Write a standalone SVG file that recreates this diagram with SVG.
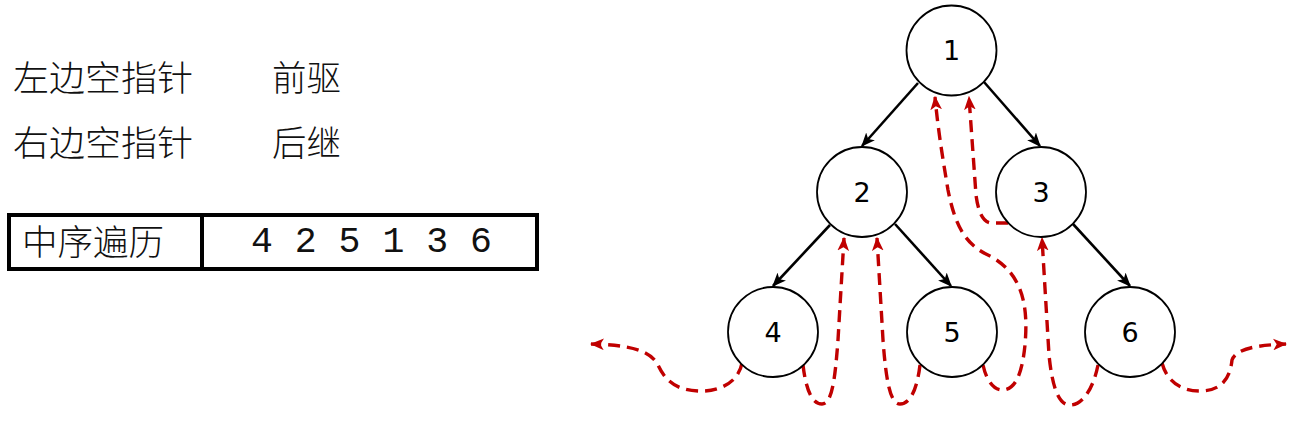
<svg xmlns="http://www.w3.org/2000/svg" width="1313" height="423" viewBox="0 0 1313 423">
<style>
.cjk{font-family:"Noto Sans CJK SC","Noto Sans CJK JP",sans-serif;font-size:35px;font-weight:300;fill:#111}
.num{font-family:"Liberation Mono",monospace;font-size:36.5px;fill:#111}
.node circle{fill:#fff;stroke:#000;stroke-width:1.8}
.node text{font-family:"DejaVu Sans",sans-serif;font-size:27px;fill:#000;text-anchor:middle}
.edge{stroke:#000;stroke-width:2.6;fill:none;marker-end:url(#ah)}
.thr{stroke:#c00000;stroke-width:3.4;fill:none;stroke-dasharray:12 7;marker-end:url(#rh)}
</style>
<defs>
<marker id="ah" markerUnits="userSpaceOnUse" markerWidth="14" markerHeight="12" refX="11" refY="5" orient="auto" viewBox="0 0 12 10">
<path d="M0,0 L12,5 L0,10 L3,5 Z" fill="#000"/>
</marker>
<marker id="rh" markerUnits="userSpaceOnUse" markerWidth="14" markerHeight="12" refX="11" refY="5" orient="auto" viewBox="0 0 12 10">
<path d="M0,0 L12,5 L0,10 L3,5 Z" fill="#c00000"/>
</marker>
</defs>

<g id="legend">
<text class="cjk" x="13" y="91" textLength="180" lengthAdjust="spacingAndGlyphs">左边空指针</text>
<text class="cjk" x="272" y="91" textLength="69" lengthAdjust="spacingAndGlyphs">前驱</text>
<text class="cjk" x="13" y="156" textLength="180" lengthAdjust="spacingAndGlyphs">右边空指针</text>
<text class="cjk" x="272" y="156" textLength="69" lengthAdjust="spacingAndGlyphs">后继</text>
</g>

<g id="table">
<rect x="9" y="215" width="528" height="54" fill="#fff" stroke="#000" stroke-width="4"/>
<line x1="202" y1="215" x2="202" y2="269" stroke="#000" stroke-width="4"/>
<text class="cjk" x="22" y="255" textLength="142" lengthAdjust="spacingAndGlyphs">中序遍历</text>
<text class="num" x="251" y="252">4 2 5 1 3 6</text>
</g>

<g id="connectors">
<line class="edge" x1="918" y1="83" x2="862" y2="146"/>
<line class="edge" x1="984" y1="82" x2="1040" y2="146"/>
<line class="edge" x1="830" y1="225" x2="773" y2="286"/>
<line class="edge" x1="895" y1="224" x2="951" y2="286"/>
<line class="edge" x1="1073" y1="224" x2="1130" y2="286"/>

<path class="thr" d="M742,363 C738,385 715,392 698,391 C675,390 665,380 658,365 C650,350 630,345 591,344"/>
<path class="thr" d="M803,365 C806,390 812,404 822,404 C832,404 835,380 838,340 L844,238"/>
<path class="thr" d="M920,365 C917,390 910,404 900,404 C890,404 886,380 883,340 L877,238"/>
<path class="thr" d="M983,365 C987,383 995,390 1002,390 C1015,390 1022,375 1025,345 C1028,310 1025,275 990,256 C965,245 955,225 948,190 C943,160 938,130 935,97"/>
<path class="thr" d="M1008,223 L991,223 C982,222 978,210 976,195 L969,97"/>
<path class="thr" d="M1098,365 C1093,390 1082,405 1070,405 C1058,405 1052,385 1049,355 L1042,238"/>
<path class="thr" d="M1162,363 C1168,385 1185,391 1200,391 C1220,391 1230,380 1232,360 C1236,348 1260,345 1286,344"/>
</g>

<g id="node1" class="node"><circle cx="951.5" cy="50.5" r="45"/><text x="951.5" y="60">1</text></g>
<g id="node2" class="node"><circle cx="862" cy="192" r="45"/><text x="862" y="201.5">2</text></g>
<g id="node3" class="node"><circle cx="1041" cy="192" r="45"/><text x="1041" y="201.5">3</text></g>
<g id="node4" class="node"><circle cx="773" cy="332" r="45"/><text x="773" y="341.5">4</text></g>
<g id="node5" class="node"><circle cx="952" cy="332" r="45"/><text x="952" y="341.5">5</text></g>
<g id="node6" class="node"><circle cx="1130" cy="332" r="45"/><text x="1130" y="341.5">6</text></g>
</svg>
